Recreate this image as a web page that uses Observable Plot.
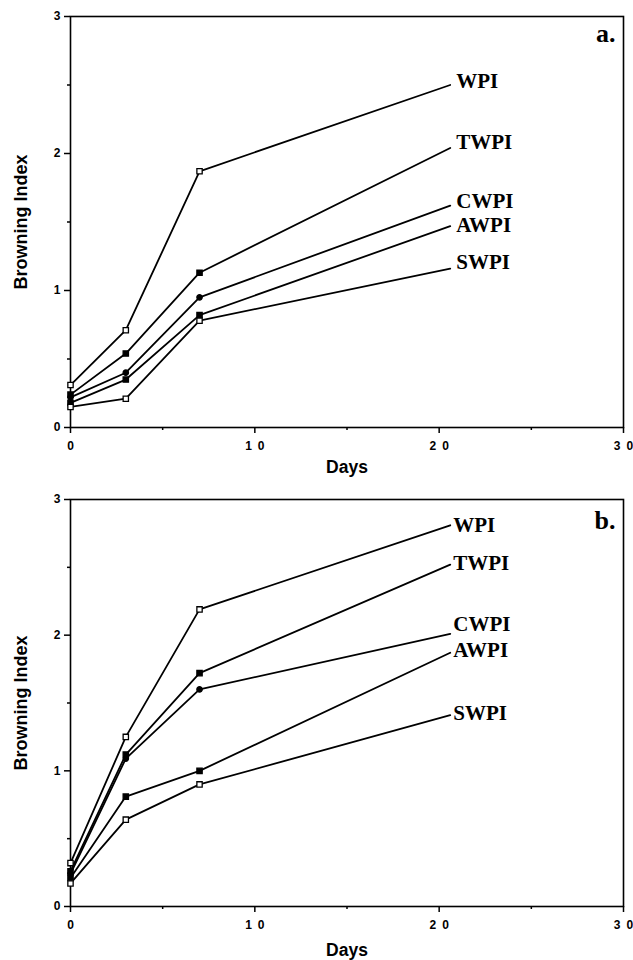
<!DOCTYPE html>
<html><head><meta charset="utf-8">
<script src="https://cdn.jsdelivr.net/npm/d3@7"></script>
<script src="https://cdn.jsdelivr.net/npm/@observablehq/plot@0.6"></script>
<style>body{margin:0;background:#fff} #chart svg{display:block}</style>
</head><body><div id="chart"></div>
<script>
// ---- data ----
const series = ["WPI", "TWPI", "CWPI", "AWPI", "SWPI"];
const days = [0, 3, 7, 20.6];
// panel a.
const aWPI  = [0.31, 0.71, 1.87, 2.50];
const aTWPI = [0.24, 0.54, 1.13, 2.04];
const aCWPI = [0.22, 0.40, 0.95, 1.62];
const aAWPI = [0.18, 0.35, 0.82, 1.47];
const aSWPI = [0.15, 0.21, 0.78, 1.16];
// panel b.
const bWPI  = [0.32, 1.25, 2.19, 2.81];
const bTWPI = [0.26, 1.12, 1.72, 2.52];
const bCWPI = [0.24, 1.09, 1.60, 2.01];
const bAWPI = [0.21, 0.81, 1.00, 1.87];
const bSWPI = [0.17, 0.64, 0.90, 1.41];
const xTicks = [0, 10, 20, 30];
const yTicks = [0, 1, 2, 3];
const xMinor = [5, 15, 25];
const yMinor = [0.5, 1.5, 2.5];

// ---- styling ----
const symbols = {WPI: "square", TWPI: "square", CWPI: "circle", AWPI: "square", SWPI: "square"};
const fills = {WPI: "white", TWPI: "black", CWPI: "black", AWPI: "black", SWPI: "white"};
const sizes = {WPI: 3, TWPI: 3, CWPI: 2.4, AWPI: 3, SWPI: 3};
const sans = "'Liberation Sans', Arial, Helvetica, sans-serif";
const serif = "'Liberation Serif', 'Times New Roman', serif";

function rows(vals) {
  return series.flatMap((s, i) => days.map((d, j) => ({series: s, day: d, value: vals[i][j]})));
}

function panel({data, letter, height, marginTop, marginBottom, labelDyX, nudge, letterDy, labelDx}) {
  const markers = data.filter(d => d.day < 20);
  const ends = data.filter(d => d.day > 20);
  return Plot.plot({
    width: 633, height, marginLeft: 70, marginRight: 10, marginTop, marginBottom,
    style: {fontFamily: sans, fontWeight: "bold", fontSize: "12px", color: "black", background: "white", overflow: "visible"},
    x: {domain: [0, 30]},
    y: {domain: [0, 3]},
    marks: [
      Plot.frame({stroke: "black", strokeWidth: 1.6}),
      Plot.axisX({ticks: xTicks, tickSize: 6, tickPadding: 8, strokeWidth: 1.5,
        tickFormat: d => String(d).split("").join("\u2002"), label: null}),
      Plot.axisX({ticks: xMinor, tickSize: 3, strokeWidth: 1.5, tickFormat: () => "", label: null}),
      Plot.axisY({ticks: yTicks, tickSize: 6, tickPadding: 4, strokeWidth: 1.5,
        tickFormat: d => String(d), label: null}),
      Plot.axisY({ticks: yMinor, tickSize: 3, strokeWidth: 1.5, tickFormat: () => "", label: null}),
      Plot.text(["Days"], {frameAnchor: "bottom", dy: labelDyX, lineAnchor: "bottom",
        fontFamily: sans, fontWeight: "bold", fontSize: 17.5, fill: "black"}),
      Plot.text(["Browning Index"], {frameAnchor: "left", dx: -56, rotate: -90, lineAnchor: "top",
        textAnchor: "middle", fontFamily: sans, fontWeight: "bold", fontSize: 18, fill: "black",
        letterSpacing: "0.5px"}),
      Plot.line(data, {x: "day", y: "value", z: "series", stroke: "black", strokeWidth: 1.8}),
      Plot.dot(markers, {x: "day", y: "value", symbol: d => symbols[d.series], fill: d => fills[d.series],
        r: d => sizes[d.series], stroke: "black", strokeWidth: 1.3}),
      ...ends.map(e => Plot.text([e], {x: "day", y: "value", text: "series", textAnchor: "start",
        dx: labelDx, dy: nudge[e.series], fontFamily: serif, fontWeight: "bold", fontSize: 21, fill: "black"})),
      Plot.text([letter], {frameAnchor: "top-right", dx: -8, dy: letterDy, lineAnchor: "top",
        fontFamily: serif, fontWeight: "bold", fontSize: 26, fill: "black"})
    ]
  });
}

const chart = document.getElementById("chart");
const pa = panel({
  data: rows([aWPI, aTWPI, aCWPI, aAWPI, aSWPI]), letter: "a.",
  height: 480, marginTop: 16, marginBottom: 53, labelDyX: 45, letterDy: 7, labelDx: 6,
  nudge: {WPI: -4, TWPI: -6, CWPI: -4, AWPI: -1, SWPI: -6}
});
const pb = panel({
  data: rows([bWPI, bTWPI, bCWPI, bAWPI, bSWPI]), letter: "b.",
  height: 480, marginTop: 19, marginBottom: 54, labelDyX: 49, letterDy: 11, labelDx: 3,
  nudge: {WPI: 0, TWPI: -1, CWPI: -10, AWPI: -3, SWPI: -2}
});
chart.append(pa, pb);
</script>
</body></html>
